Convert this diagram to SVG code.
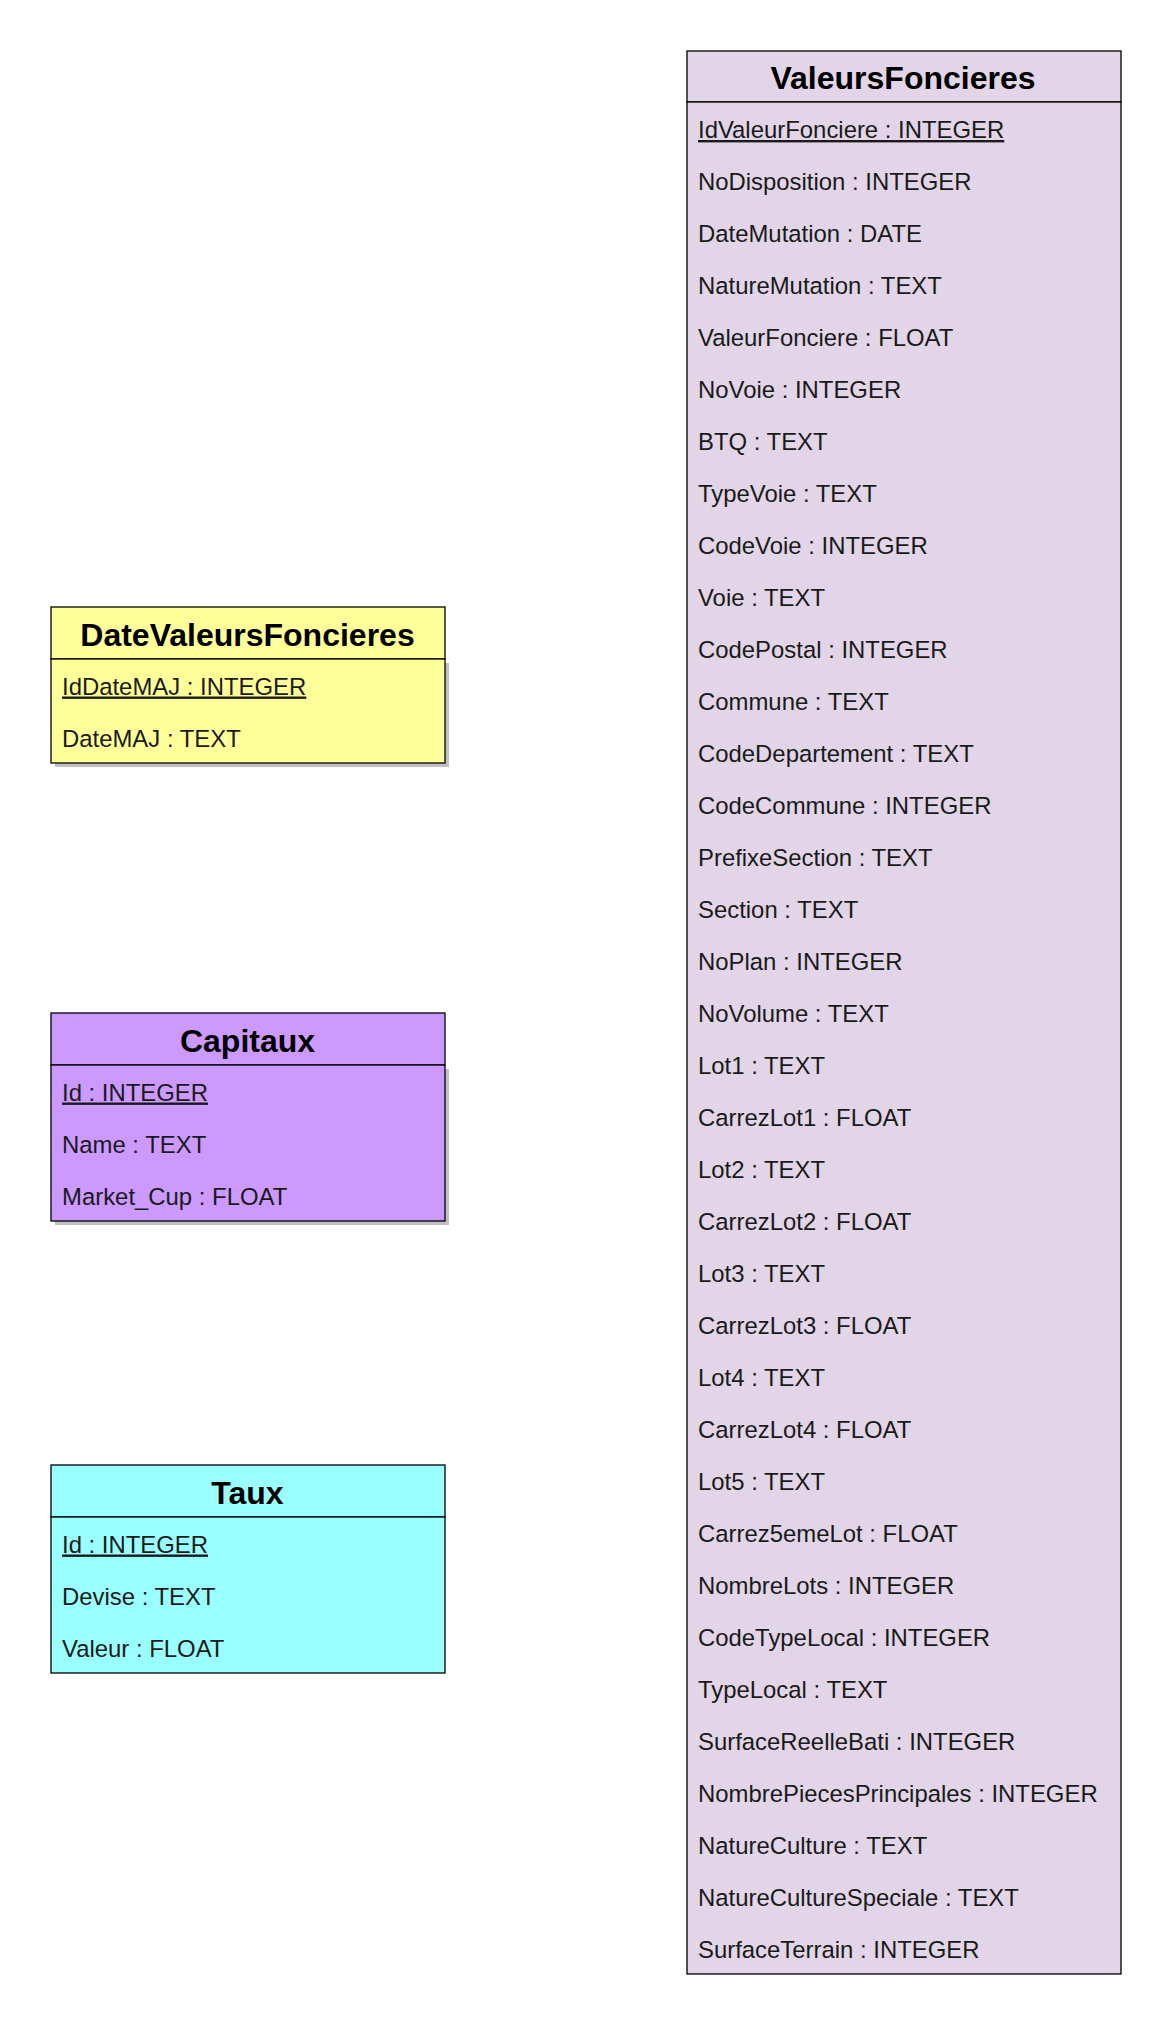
<svg xmlns="http://www.w3.org/2000/svg" width="1172" height="2032" viewBox="0 0 1172 2032">
<style>
.box{stroke:#000;stroke-width:1.3}
.shadow{fill:#c0c0c0}
.title{font-family:"Liberation Sans",Arial,sans-serif;font-weight:bold;font-size:32px;fill:#000;text-anchor:middle}
.row{font-family:"Liberation Sans",Arial,sans-serif;font-size:23.9px;fill:#1a1a1a}
.pk{text-decoration:underline}
.vf{fill:#e1d5e7}
.dvf{fill:#ffff99}
.cap{fill:#cc99ff}
.taux{fill:#99ffff}
</style>
<rect width="1172" height="2032" fill="#ffffff"/>
<g id="connectors"></g>
<g id="DateValeursFoncieres">
<rect class="shadow" x="55" y="663" width="394" height="104"/>
<rect class="box dvf" x="51" y="607" width="394" height="52"/>
<rect class="box dvf" x="51" y="659" width="394" height="104"/>
<text class="title" x="247.5" y="645.5">DateValeursFoncieres</text>
<text class="row pk" x="62" y="694.5">IdDateMAJ : INTEGER</text>
<text class="row" x="62" y="746.5">DateMAJ : TEXT</text>
</g>
<g id="Capitaux">
<rect class="shadow" x="55" y="1069" width="394" height="156"/>
<rect class="box cap" x="51" y="1013" width="394" height="52"/>
<rect class="box cap" x="51" y="1065" width="394" height="156"/>
<text class="title" x="247.5" y="1051.5">Capitaux</text>
<text class="row pk" x="62" y="1100.5">Id : INTEGER</text>
<text class="row" x="62" y="1152.5">Name : TEXT</text>
<text class="row" x="62" y="1204.5">Market_Cup : FLOAT</text>
</g>
<g id="Taux">
<rect class="box taux" x="51" y="1465" width="394" height="52"/>
<rect class="box taux" x="51" y="1517" width="394" height="156"/>
<text class="title" x="247.5" y="1503.5">Taux</text>
<text class="row pk" x="62" y="1552.5">Id : INTEGER</text>
<text class="row" x="62" y="1604.5">Devise : TEXT</text>
<text class="row" x="62" y="1656.5">Valeur : FLOAT</text>
</g>
<g id="ValeursFoncieres">
<rect class="box vf" x="687" y="51" width="434" height="51"/>
<rect class="box vf" x="687" y="102" width="434" height="1872"/>
<text class="title" x="903" y="89">ValeursFoncieres</text>
<text class="row pk" x="698" y="138">IdValeurFonciere : INTEGER</text>
<text class="row" x="698" y="190">NoDisposition : INTEGER</text>
<text class="row" x="698" y="242">DateMutation : DATE</text>
<text class="row" x="698" y="294">NatureMutation : TEXT</text>
<text class="row" x="698" y="346">ValeurFonciere : FLOAT</text>
<text class="row" x="698" y="398">NoVoie : INTEGER</text>
<text class="row" x="698" y="450">BTQ : TEXT</text>
<text class="row" x="698" y="502">TypeVoie : TEXT</text>
<text class="row" x="698" y="554">CodeVoie : INTEGER</text>
<text class="row" x="698" y="606">Voie : TEXT</text>
<text class="row" x="698" y="658">CodePostal : INTEGER</text>
<text class="row" x="698" y="710">Commune : TEXT</text>
<text class="row" x="698" y="762">CodeDepartement : TEXT</text>
<text class="row" x="698" y="814">CodeCommune : INTEGER</text>
<text class="row" x="698" y="866">PrefixeSection : TEXT</text>
<text class="row" x="698" y="918">Section : TEXT</text>
<text class="row" x="698" y="970">NoPlan : INTEGER</text>
<text class="row" x="698" y="1022">NoVolume : TEXT</text>
<text class="row" x="698" y="1074">Lot1 : TEXT</text>
<text class="row" x="698" y="1126">CarrezLot1 : FLOAT</text>
<text class="row" x="698" y="1178">Lot2 : TEXT</text>
<text class="row" x="698" y="1230">CarrezLot2 : FLOAT</text>
<text class="row" x="698" y="1282">Lot3 : TEXT</text>
<text class="row" x="698" y="1334">CarrezLot3 : FLOAT</text>
<text class="row" x="698" y="1386">Lot4 : TEXT</text>
<text class="row" x="698" y="1438">CarrezLot4 : FLOAT</text>
<text class="row" x="698" y="1490">Lot5 : TEXT</text>
<text class="row" x="698" y="1542">Carrez5emeLot : FLOAT</text>
<text class="row" x="698" y="1594">NombreLots : INTEGER</text>
<text class="row" x="698" y="1646">CodeTypeLocal : INTEGER</text>
<text class="row" x="698" y="1698">TypeLocal : TEXT</text>
<text class="row" x="698" y="1750">SurfaceReelleBati : INTEGER</text>
<text class="row" x="698" y="1802">NombrePiecesPrincipales : INTEGER</text>
<text class="row" x="698" y="1854">NatureCulture : TEXT</text>
<text class="row" x="698" y="1906">NatureCultureSpeciale : TEXT</text>
<text class="row" x="698" y="1958">SurfaceTerrain : INTEGER</text>
</g>
</svg>
